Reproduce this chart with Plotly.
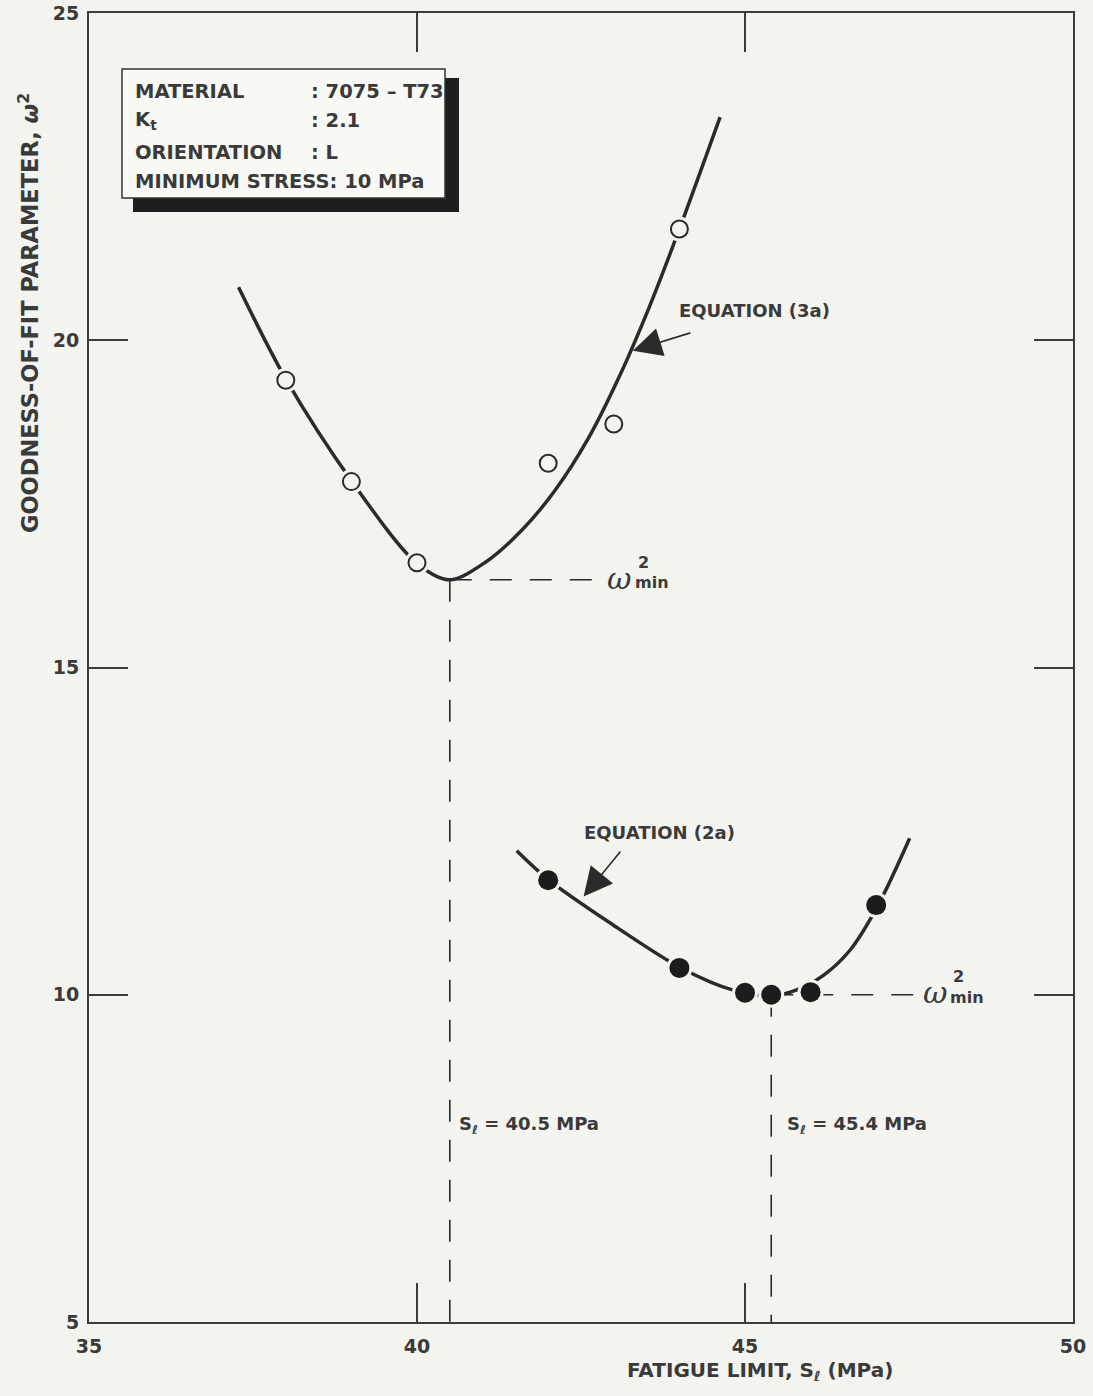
import plotly.graph_objects as go

# ---------------- data ----------------
# Equation (3a): open circles and fitted curve
eq3a_x = [38, 39, 40, 42, 43, 44]
eq3a_y = [19.39, 17.84, 16.60, 18.12, 18.72, 21.70]
curve3a_x = [37.28, 38.01, 39.01, 39.99, 40.50, 41.06, 41.60, 42.10, 42.60, 43.10, 43.55, 44.00, 44.62]
curve3a_y = [20.81, 19.39, 17.84, 16.60, 16.34, 16.62, 17.10, 17.70, 18.48, 19.48, 20.53, 21.70, 23.41]

# Equation (2a): filled circles and fitted curve
eq2a_x = [42, 44, 45, 45.4, 46, 47]
eq2a_y = [11.75, 10.41, 10.03, 10.00, 10.04, 11.37]
curve2a_x = [41.52, 42.00, 42.94, 44.04, 44.82, 45.44, 45.80, 46.20, 46.60, 47.03, 47.51]
curve2a_y = [12.20, 11.76, 11.10, 10.40, 10.07, 9.99, 10.08, 10.30, 10.68, 11.37, 12.39]

# minima
min3a = (40.5, 16.34)
min2a = (45.4, 10.00)
min3a_dash_end = 42.68
min2a_dash_end = 47.64

x_ticks = [35, 40, 45, 50]
y_ticks = [5, 10, 15, 20, 25]

BG = "#f3f3ef"
INK = "#2b2b2b"
TXT = "#3a3a3a"
SANS = "DejaVu Sans"

# plot-area geometry in pixels (for paper-referenced decorations)
L, R, T, B = 89, 1073, 13, 1322


def px(x):
    return (x - L) / (R - L)


def py(y):
    return (B - y) / (B - T)


fig = go.Figure()

# curves
for cx, cy in [(curve3a_x, curve3a_y), (curve2a_x, curve2a_y)]:
    fig.add_trace(go.Scatter(x=cx, y=cy, mode="lines",
                             line=dict(color=INK, width=3.5, shape="spline", smoothing=0.9),
                             hoverinfo="skip", showlegend=False))

# dashed guide lines
dash = "22px,18px"
for xs, ys in [
    ([min3a[0], min3a_dash_end], [min3a[1], min3a[1]]),
    ([min3a[0], min3a[0]], [min3a[1], 5]),
    ([min2a[0], min2a_dash_end], [min2a[1], min2a[1]]),
    ([min2a[0], min2a[0]], [min2a[1], 5]),
]:
    fig.add_trace(go.Scatter(x=xs, y=ys, mode="lines",
                             line=dict(color=INK, width=1.6, dash=dash),
                             showlegend=False, hoverinfo="skip"))

# halos (gaps in the curve around symbols)
fig.add_trace(go.Scatter(x=eq3a_x, y=eq3a_y, mode="markers",
                         marker=dict(size=25, color=BG, line=dict(width=0)),
                         showlegend=False, hoverinfo="skip"))
fig.add_trace(go.Scatter(x=eq2a_x, y=eq2a_y, mode="markers",
                         marker=dict(size=26, color=BG, line=dict(width=0)),
                         showlegend=False, hoverinfo="skip"))

# symbols
fig.add_trace(go.Scatter(x=eq3a_x, y=eq3a_y, mode="markers",
                         marker=dict(size=17, color=BG, line=dict(width=2, color=INK)),
                         showlegend=False))
fig.add_trace(go.Scatter(x=eq2a_x, y=eq2a_y, mode="markers",
                         marker=dict(size=20, color="#1c1c1c", line=dict(width=0)),
                         showlegend=False))

# info box (shadow + box)
fig.add_shape(type="rect", xref="paper", yref="paper",
              x0=px(133), x1=px(459), y0=py(212), y1=py(78),
              fillcolor="#1e1e1e", line=dict(width=0), layer="above")
fig.add_shape(type="rect", xref="paper", yref="paper",
              x0=px(122), x1=px(445), y0=py(198), y1=py(69),
              fillcolor="#f8f8f5", line=dict(color="#333", width=1.5), layer="above")

box_font = dict(family=SANS, size=19.5, color=TXT, weight="bold")
rows = [
    (92, "MATERIAL", ": 7075 – T73"),
    (121, "K<sub>t</sub>", ": 2.1"),
    (153, "ORIENTATION", ": L"),
]
ann = []
for yy, a, b in rows:
    ann.append(dict(xref="paper", yref="paper", x=px(133), y=py(yy), text=a,
                    xanchor="left", yanchor="middle", showarrow=False, font=box_font))
    ann.append(dict(xref="paper", yref="paper", x=px(309), y=py(yy), text=b,
                    xanchor="left", yanchor="middle", showarrow=False, font=box_font))
ann.append(dict(xref="paper", yref="paper", x=px(133), y=py(182), text="MINIMUM STRESS: 10 MPa",
                xanchor="left", yanchor="middle", showarrow=False, font=box_font))

lab_font = dict(family=SANS, size=18, color=TXT, weight="bold")
# Equation labels
ann.append(dict(xref="paper", yref="paper", x=px(677), y=py(311), text="EQUATION (3a)",
                xanchor="left", yanchor="middle", showarrow=False, font=lab_font))
ann.append(dict(xref="paper", yref="paper", x=px(582), y=py(832), text="EQUATION (2a)",
                xanchor="left", yanchor="middle", showarrow=False, font=lab_font))
# arrows
ann.append(dict(x=43.29, y=19.84, ax=44.19, ay=20.12, axref="x", ayref="y", xref="x", yref="y",
                text="", showarrow=True, arrowhead=2, arrowsize=3.6, arrowwidth=1.6,
                arrowcolor=INK, standoff=0))
ann.append(dict(x=42.54, y=11.50, ax=43.12, ay=12.21, axref="x", ayref="y", xref="x", yref="y",
                text="", showarrow=True, arrowhead=2, arrowsize=3.6, arrowwidth=1.6,
                arrowcolor=INK, standoff=0))

# omega^2_min labels
omega_font = dict(family="DejaVu Serif", size=30, color=TXT, style="italic")
small_font = dict(family=SANS, size=16, color=TXT, weight="bold")
for (ox, oy), (tx, ty), (mx, my) in [
    ((619, 578), (643, 562), (652, 582)),
    ((935, 992), (958, 976), (967, 997)),
]:
    ann.append(dict(xref="paper", yref="paper", x=px(ox), y=py(oy), text="ω",
                    xanchor="center", yanchor="middle", showarrow=False, font=omega_font))
    ann.append(dict(xref="paper", yref="paper", x=px(tx), y=py(ty), text="2",
                    xanchor="center", yanchor="middle", showarrow=False, font=small_font))
    ann.append(dict(xref="paper", yref="paper", x=px(mx), y=py(my), text="min",
                    xanchor="center", yanchor="middle", showarrow=False, font=small_font))

# S_l labels
sl_font = dict(family=SANS, size=18, color=TXT, weight="bold")
ann.append(dict(xref="paper", yref="paper", x=px(457), y=py(1125),
                text="S<sub>ℓ</sub> = 40.5 MPa", xanchor="left", yanchor="middle",
                showarrow=False, font=sl_font))
ann.append(dict(xref="paper", yref="paper", x=px(785), y=py(1125),
                text="S<sub>ℓ</sub> = 45.4 MPa", xanchor="left", yanchor="middle",
                showarrow=False, font=sl_font))

# axis titles
ann.append(dict(xref="paper", yref="paper", x=px(760), y=py(1371),
                text="FATIGUE LIMIT, S<sub>ℓ</sub> (MPa)", xanchor="center", yanchor="middle",
                showarrow=False, font=dict(family=SANS, size=20, color=TXT, weight="bold")))
ann.append(dict(xref="paper", yref="paper", x=px(28), y=py(313),
                text="GOODNESS-OF-FIT PARAMETER, <i>ω</i><sup>2</sup>", textangle=-90,
                xanchor="center", yanchor="middle",
                showarrow=False, font=dict(family=SANS, size=22.5, color=TXT, weight="bold")))

axis_common = dict(showgrid=False, zeroline=False, showline=True, linecolor="#3c3c3c",
                   linewidth=2, ticks="inside", ticklen=39, tickwidth=2, tickcolor="#3c3c3c",
                   mirror="ticks", automargin=False,
                   tickfont=dict(family=SANS, size=19, color=TXT, weight="bold"))

fig.update_layout(
    width=1093, height=1396,
    margin=dict(l=L, r=1093 - R, t=T, b=1396 - B),
    paper_bgcolor=BG, plot_bgcolor=BG,
    showlegend=False,
    xaxis=dict(range=[35, 50], tickvals=x_ticks, ticktext=[str(v) for v in x_ticks],
               ticklabelstandoff=6, **axis_common),
    yaxis=dict(range=[5, 25], tickvals=y_ticks, ticktext=[str(v) for v in y_ticks],
               ticklabelstandoff=4, **axis_common),
    annotations=ann,
)

fig.write_html("out.html")
